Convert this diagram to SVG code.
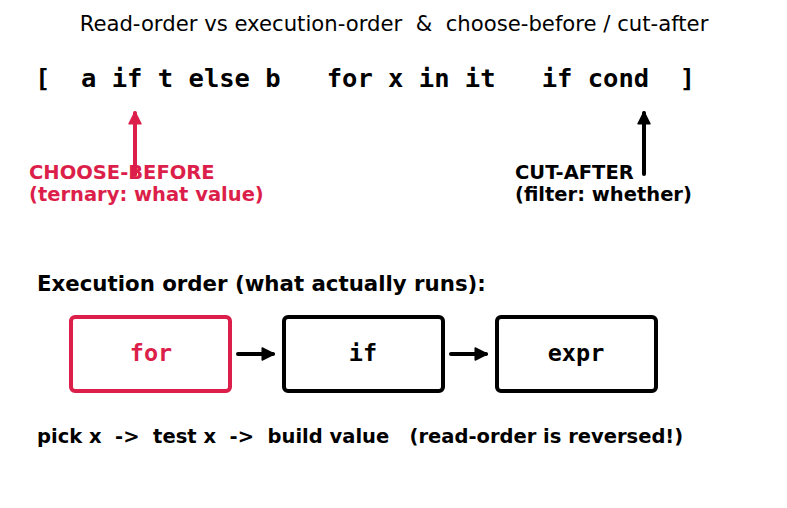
<svg xmlns="http://www.w3.org/2000/svg" width="787" height="508" viewBox="0 0 787 508">
<style>
.title{font-family:"DejaVu Sans",sans-serif;font-size:21.2px;fill:#000}
.code{font-family:"DejaVu Sans Mono",monospace;font-weight:bold;font-size:25.5px;fill:#000;white-space:pre}
.lbl{font-family:"DejaVu Sans",sans-serif;font-weight:bold;font-size:19.5px}
.head{font-family:"DejaVu Sans",sans-serif;font-weight:bold;font-size:21.3px;fill:#000}
.box{fill:#fff;stroke-width:4}
.btxt{font-family:"DejaVu Sans Mono",monospace;font-weight:bold;font-size:23.5px;text-anchor:middle}
.red{fill:#dc1f4a}
.blk{fill:#000}
.conn{stroke-width:4;fill:none;stroke-linecap:round}
</style>
<defs>
<marker id="ahR" viewBox="-1 -1 12 12" refX="9" refY="5" markerWidth="3.6" markerHeight="3.6" orient="auto" markerUnits="strokeWidth"><path d="M0,0 L10,5 L0,10 z" fill="#dc1f4a" stroke="#dc1f4a" stroke-width="1.2" stroke-linejoin="round"/></marker>
<marker id="ahK" viewBox="-1 -1 12 12" refX="9" refY="5" markerWidth="3.6" markerHeight="3.6" orient="auto" markerUnits="strokeWidth"><path d="M0,0 L10,5 L0,10 z" fill="#000" stroke="#000" stroke-width="1.2" stroke-linejoin="round"/></marker>
</defs>
<rect width="787" height="508" fill="#fff"/>
<text class="title" x="394" y="31" text-anchor="middle" xml:space="preserve">Read-order vs execution-order  &amp;  choose-before / cut-after</text>
<text class="code" x="35" y="87" xml:space="preserve">[  a if t else b   for x in it   if cond  ]</text>
<g id="connectors">
<line class="conn" x1="135" y1="175" x2="135" y2="113" stroke="#dc1f4a" marker-end="url(#ahR)"/>
<line class="conn" x1="644" y1="174" x2="644" y2="113" stroke="#000" marker-end="url(#ahK)"/>
<line class="conn" x1="238" y1="354" x2="273" y2="354" stroke="#000" marker-end="url(#ahK)"/>
<line class="conn" x1="451" y1="354" x2="486" y2="354" stroke="#000" marker-end="url(#ahK)"/>
</g>
<g id="choose-before">
<text class="lbl red" x="29" y="179">CHOOSE-BEFORE</text>
<text class="lbl red" x="29" y="201">(ternary: what value)</text>
</g>
<g id="cut-after">
<text class="lbl blk" x="515" y="179">CUT-AFTER</text>
<text class="lbl blk" x="515" y="201">(filter: whether)</text>
</g>
<text class="head" x="37" y="291">Execution order (what actually runs):</text>
<g id="node-for">
<rect class="box" x="71" y="317" width="159" height="74" rx="4" stroke="#dc1f4a"/>
<text class="btxt red" x="151" y="361">for</text>
</g>
<g id="node-if">
<rect class="box" x="284" y="317" width="159" height="74" rx="4" stroke="#000"/>
<text class="btxt blk" x="363" y="361">if</text>
</g>
<g id="node-expr">
<rect class="box" x="497" y="317" width="159" height="74" rx="4" stroke="#000"/>
<text class="btxt blk" x="576" y="361">expr</text>
</g>
<text class="lbl blk" x="37" y="443" xml:space="preserve">pick x  -&gt;  test x  -&gt;  build value   (read-order is reversed!)</text>
</svg>
